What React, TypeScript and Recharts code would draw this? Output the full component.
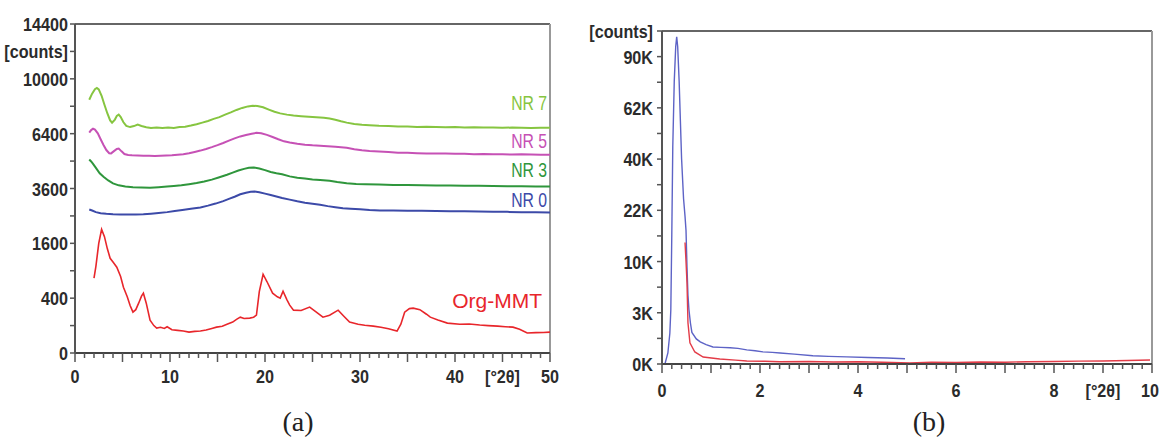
import { LineChart, Line, XAxis, YAxis, ReferenceLine } from 'recharts'

// panel (a): 2theta, counts
const nr7: [number, number][] = [
  [1.5, 8530], [1.8, 8950], [2.1, 9260], [2.3, 9350], [2.5, 9240], [2.8, 8800], [3.1, 8200], [3.4, 7650],
  [3.7, 7200], [3.9, 7060], [4.2, 7250], [4.4, 7480], [4.6, 7560], [4.8, 7420], [5.1, 7080], [5.4, 6860],
  [5.8, 6790], [6.2, 6850], [6.6, 6940], [7.0, 6860], [7.5, 6780], [8.0, 6730], [8.6, 6770], [9.2, 6740],
  [9.8, 6760], [10.4, 6730], [11.0, 6790], [11.6, 6810], [12.2, 6880], [12.8, 6960], [13.4, 7060], [14.0, 7160],
  [14.6, 7290], [15.2, 7400], [15.8, 7560], [16.4, 7700], [17.0, 7860], [17.6, 7990], [18.2, 8090], [18.7, 8140],
  [19.2, 8110], [19.8, 8030], [20.4, 7880], [21.0, 7740], [21.6, 7640], [22.3, 7560], [23.0, 7500], [23.8, 7460],
  [24.6, 7420], [25.4, 7390], [26.2, 7360], [26.8, 7320], [27.4, 7240], [28.0, 7140], [28.6, 7060], [29.4, 6980],
  [30.2, 6930], [31.0, 6900], [32.0, 6870], [33.0, 6860], [34.0, 6830], [35.0, 6820], [36.0, 6800], [37.0, 6810],
  [38.0, 6790], [39.0, 6780], [40.0, 6790], [41.0, 6770], [42.0, 6780], [43.0, 6760], [44.0, 6770], [45.0, 6750],
  [46.0, 6760], [47.0, 6750], [48.0, 6740], [49.0, 6750], [50.0, 6750],
]

const nr5: [number, number][] = [
  [1.5, 6460], [1.7, 6610], [1.9, 6690], [2.1, 6640], [2.4, 6420], [2.7, 6080], [3.0, 5760], [3.3, 5480],
  [3.6, 5310], [3.8, 5300], [4.1, 5420], [4.4, 5540], [4.6, 5560], [4.9, 5410], [5.2, 5270], [5.6, 5220],
  [6.0, 5200], [6.6, 5190], [7.2, 5170], [7.8, 5180], [8.4, 5160], [9.0, 5180], [9.6, 5190], [10.2, 5200],
  [10.8, 5230], [11.4, 5260], [12.0, 5310], [12.6, 5380], [13.2, 5450], [13.8, 5540], [14.4, 5640], [15.0, 5750],
  [15.6, 5870], [16.2, 6000], [16.8, 6130], [17.4, 6240], [18.0, 6320], [18.6, 6400], [19.1, 6450], [19.6, 6420],
  [20.2, 6330], [20.8, 6210], [21.4, 6080], [22.0, 5960], [22.6, 5890], [23.4, 5820], [24.2, 5770], [25.0, 5740],
  [25.8, 5720], [26.6, 5690], [27.4, 5660], [28.0, 5630], [28.6, 5600], [29.4, 5520], [30.2, 5470], [31.0, 5430],
  [32.0, 5400], [33.0, 5370], [34.0, 5340], [35.0, 5330], [36.0, 5310], [37.0, 5300], [38.0, 5300], [39.0, 5290],
  [40.0, 5280], [41.0, 5280], [42.0, 5260], [43.0, 5270], [44.0, 5250], [45.0, 5250], [46.0, 5240], [47.0, 5250],
  [48.0, 5240], [49.0, 5230], [50.0, 5235],
]

const nr3: [number, number][] = [
  [1.5, 4980], [1.7, 4880], [1.9, 4760], [2.2, 4560], [2.6, 4300], [3.0, 4130], [3.5, 3960], [4.0, 3830],
  [4.6, 3740], [5.3, 3690], [6.1, 3650], [7.0, 3640], [7.9, 3630], [8.8, 3660], [9.7, 3690], [10.4, 3710],
  [11.2, 3740], [12.0, 3790], [12.8, 3840], [13.6, 3910], [14.4, 4000], [15.2, 4110], [16.0, 4230], [16.6, 4330],
  [17.2, 4430], [17.8, 4510], [18.3, 4560], [18.8, 4580], [19.4, 4530], [20.0, 4450], [20.6, 4360], [21.2, 4300],
  [21.8, 4250], [22.6, 4150], [23.4, 4090], [24.2, 4050], [25.0, 4010], [25.8, 3980], [26.8, 3950], [27.6, 3890],
  [28.6, 3830], [29.6, 3800], [30.6, 3790], [32.0, 3780], [33.5, 3760], [35.0, 3750], [36.5, 3740], [38.0, 3730],
  [39.5, 3730], [41.0, 3720], [42.5, 3720], [44.0, 3710], [45.5, 3700], [47.0, 3700], [48.5, 3690], [50.0, 3690],
]

const nr0: [number, number][] = [
  [1.5, 2740], [1.8, 2700], [2.2, 2640], [2.7, 2600], [3.3, 2580], [4.0, 2565], [4.8, 2555], [5.6, 2550],
  [6.4, 2552], [7.2, 2560], [8.0, 2580], [8.8, 2605], [9.7, 2640], [10.5, 2680], [11.3, 2720], [12.2, 2765],
  [13.2, 2820], [14.0, 2890], [14.8, 2970], [15.6, 3070], [16.2, 3160], [16.8, 3250], [17.4, 3350], [18.0, 3420],
  [18.5, 3460], [18.9, 3470], [19.4, 3440], [20.0, 3380], [20.6, 3320], [21.2, 3260], [21.8, 3200], [22.6, 3130],
  [23.4, 3060], [24.2, 3000], [25.0, 2960], [25.8, 2920], [26.6, 2870], [27.4, 2830], [28.2, 2790], [29.0, 2770],
  [30.0, 2750], [31.0, 2720], [32.1, 2705], [33.5, 2700], [35.0, 2690], [36.5, 2690], [38.0, 2680], [39.5, 2670],
  [41.0, 2670], [42.5, 2660], [44.0, 2650], [45.5, 2650], [47.0, 2640], [48.5, 2635], [50.0, 2628],
]

const orgMmt: [number, number][] = [
  [2.0, 744], [2.2, 1000], [2.5, 1600], [2.8, 2033], [3.1, 1800], [3.4, 1450], [3.7, 1193], [4.0, 1100],
  [4.4, 978], [4.8, 780], [5.1, 576], [5.5, 420], [5.8, 300], [6.1, 222], [6.4, 250], [6.7, 330],
  [7.0, 430], [7.2, 476], [7.5, 330], [7.9, 144], [8.3, 100], [8.6, 83], [9.0, 88], [9.4, 80],
  [9.7, 92], [10.2, 72], [10.8, 68], [11.4, 64], [12.0, 58], [12.6, 62], [13.2, 64], [13.8, 70],
  [14.4, 80], [14.9, 89], [15.5, 95], [16.0, 110], [16.6, 127], [17.0, 150], [17.4, 171], [17.8, 158],
  [18.4, 162], [18.8, 170], [19.1, 191], [19.4, 500], [19.8, 825], [20.2, 680], [20.8, 476], [21.3, 420],
  [21.6, 400], [21.9, 508], [22.3, 380], [22.6, 305], [23.0, 244], [23.8, 240], [24.7, 280], [25.3, 230],
  [26.1, 171], [26.8, 190], [27.7, 244], [28.3, 180], [28.9, 127], [29.8, 110], [30.5, 102], [31.4, 96],
  [32.2, 88], [33.0, 78], [33.9, 64], [34.3, 110], [34.7, 222], [35.2, 262], [35.6, 268], [36.3, 250],
  [37.0, 200], [37.4, 171], [38.2, 145], [39.2, 119], [40.5, 110], [41.5, 112], [42.6, 104], [43.5, 100],
  [44.5, 96], [45.3, 92], [46.1, 89], [46.8, 75], [47.6, 53], [48.5, 55], [49.3, 56], [50.0, 58],
]

// panel (b)
const smallBlue: [number, number][] = [
  [0.06, 0], [0.12, 116], [0.16, 900], [0.18, 2800], [0.2, 16000], [0.22, 45000], [0.25, 76000], [0.28, 96000],
  [0.3, 102000], [0.32, 96000], [0.35, 76000], [0.4, 40000], [0.44, 26000], [0.47, 20750], [0.49, 17000], [0.51, 9000],
  [0.53, 4500], [0.55, 2800], [0.58, 1600], [0.61, 950], [0.7, 600], [0.78, 465], [0.9, 360], [1.04, 277],
  [1.2, 262], [1.39, 250], [1.55, 232], [1.73, 190], [1.9, 168], [2.06, 140], [2.25, 128], [2.41, 116],
  [2.7, 92], [3.08, 64], [3.4, 56], [3.77, 48], [4.2, 40], [4.6, 34], [4.96, 26],
]

const smallRed: [number, number][] = [
  [0.47, 14065], [0.49, 10000], [0.51, 6301], [0.53, 1614], [0.57, 424], [0.67, 138], [0.84, 47], [1.18, 24],
  [1.5, 14], [1.73, 9], [2.1, 7], [2.4, 5], [3.0, 6], [3.5, 4], [4.0, 5], [4.5, 3], [5.06, 1], [5.5, 3],
  [6.0, 2], [6.5, 4], [7.0, 3], [7.45, 5], [8.0, 6], [8.5, 8], [9.0, 9], [9.5, 12], [9.96, 15],
]

const aYTicks = [0, 100, 400, 900, 1600, 2500, 3600, 4900, 6400, 8100, 10000, 12100, 14400]
const aYLabels: Record<number, string> = { 0: '0', 400: '400', 1600: '1600', 3600: '3600', 6400: '6400', 10000: '10000', 12100: '[counts]', 14400: '14400' }
const aXLabels: Record<number, string> = { 0: '0', 10: '10', 20: '20', 30: '30', 40: '40', 45: '[°2θ]', 50: '50' }

const bYTicks = [0, 625, 2500, 5625, 10000, 15625, 22500, 30625, 40000, 50625, 62500, 75625, 90000, 105625]
const bYLabels: Record<number, string> = { 0: '0K', 2500: '3K', 10000: '10K', 22500: '22K', 40000: '40K', 62500: '62K', 90000: '90K', 105625: '[counts]' }
const bXLabels: Record<number, string> = { 0: '0', 2: '2', 4: '4', 6: '6', 8: '8', 9: '[°2θ]', 10: '10' }

const aXTicks = Array.from({ length: 51 }, (_, i) => i)
const bXTicks = Array.from({ length: 51 }, (_, i) => i / 5)

const toRows = (pts: [number, number][]) => pts.map(([x, y]) => ({ x, y }))

const FONT = 'Liberation Sans Narrow, Arial Narrow, sans-serif'
const INK = '#2b2b2b'

const NarrowText = ({ x, y, anchor, size, sx, fill, weight, children }: any) => (
  <text transform={`translate(${x},${y}) scale(${sx},1)`} textAnchor={anchor} fontFamily={FONT} fontSize={size}
    fontWeight={weight ?? 'normal'} fill={fill}>
    {children}
  </text>
)

const makeYTick = (labels: Record<number, string>, gap: number) => (props: any) => {
  const { x, y, payload } = props
  const label = labels[payload.value]
  return (
    <g>
      <line x1={x - 5} x2={x} y1={y} y2={y} stroke="#555" strokeWidth={1.5} />
      {label && <NarrowText x={x - gap} y={y + 7} anchor="end" size={19} sx={0.85} weight="bold" fill={INK}>{label}</NarrowText>}
    </g>
  )
}

const makeXTick = (labels: Record<number, string>, isMajor: (v: number) => boolean, dy: number, edge: number) => (props: any) => {
  const { x, y, payload } = props
  const v = payload.value
  const label = labels[v]
  // keep the last label inside the page
  const lx = v === edge ? x - 2 : x
  return (
    <g>
      <line x1={x} x2={x} y1={y} y2={y + (isMajor(v) ? 9 : 5)} stroke="#555" strokeWidth={1.5} />
      {label && <NarrowText x={lx} y={y + dy} anchor="middle" size={19} sx={0.85} weight="bold" fill={INK}>{label}</NarrowText>}
    </g>
  )
}

export default function App() {
  return (
    <div style={{ position: 'absolute', left: 0, top: 0, width: 1159, height: 439, background: '#fff' }}>
      <div style={{ position: 'absolute', left: 0, top: 0 }}>
        <LineChart width={570} height={400} margin={{ top: 24, right: 20, bottom: 17, left: 15 }}>
          <XAxis type="number" dataKey="x" domain={[0, 50]} ticks={aXTicks} interval={0} height={30}
            axisLine={{ stroke: '#444', strokeWidth: 2 }} tickLine={false} tickSize={0} tickMargin={0}
            tick={makeXTick(aXLabels, (v) => v % 5 === 0, 30, -1)} />
          <YAxis type="number" scale="sqrt" domain={[0, 14400]} ticks={aYTicks} interval={0} width={60}
            axisLine={{ stroke: '#555', strokeWidth: 2 }} tickLine={false} tickSize={0} tickMargin={0}
            tick={makeYTick(aYLabels, 7)} />
          <ReferenceLine y={14400} stroke="#666" strokeWidth={2} />
          <ReferenceLine x={50} stroke="#999" strokeWidth={2} />
          <Line data={toRows(nr7)} dataKey="y" stroke="#86c540" strokeWidth={2} dot={false} isAnimationActive={false} />
          <Line data={toRows(nr5)} dataKey="y" stroke="#c651b5" strokeWidth={2} dot={false} isAnimationActive={false} />
          <Line data={toRows(nr3)} dataKey="y" stroke="#2f963c" strokeWidth={2} dot={false} isAnimationActive={false} />
          <Line data={toRows(nr0)} dataKey="y" stroke="#3c4aa8" strokeWidth={2} dot={false} isAnimationActive={false} />
          <Line data={toRows(orgMmt)} dataKey="y" stroke="#e8262b" strokeWidth={1.6} dot={false} isAnimationActive={false} />
        </LineChart>
      </div>
      <div style={{ position: 'absolute', left: 580, top: 0 }}>
        <LineChart width={579} height={400} margin={{ top: 31, right: 7, bottom: 6, left: 22 }}>
          <XAxis type="number" dataKey="x" domain={[0, 10]} ticks={bXTicks} interval={0} height={30}
            axisLine={{ stroke: '#444', strokeWidth: 2 }} tickLine={false} tickSize={0} tickMargin={0}
            tick={makeXTick(bXLabels, (v) => Number.isInteger(v), 33, 10)} />
          <YAxis type="number" scale="sqrt" domain={[0, 105625]} ticks={bYTicks} interval={0} width={60}
            axisLine={{ stroke: '#555', strokeWidth: 2 }} tickLine={false} tickSize={0} tickMargin={0}
            tick={makeYTick(bYLabels, 9)} />
          <ReferenceLine y={105625} stroke="#666" strokeWidth={2} />
          <ReferenceLine x={10} stroke="#999" strokeWidth={2} />
          <Line data={toRows(smallBlue)} dataKey="y" stroke="#5d63c6" strokeWidth={1.4} dot={false} isAnimationActive={false} />
          <Line data={toRows(smallRed)} dataKey="y" stroke="#e33c48" strokeWidth={1.4} dot={false} isAnimationActive={false} />
        </LineChart>
      </div>
      <svg width={1159} height={439} style={{ position: 'absolute', left: 0, top: 0, pointerEvents: 'none' }}>
        <NarrowText x={547} y={110} anchor="end" size={21} sx={0.75} fill="#86c540">NR 7</NarrowText>
        <NarrowText x={547} y={148} anchor="end" size={21} sx={0.75} fill="#c651b5">NR 5</NarrowText>
        <NarrowText x={547} y={177} anchor="end" size={21} sx={0.75} fill="#2f963c">NR 3</NarrowText>
        <NarrowText x={547} y={207} anchor="end" size={21} sx={0.75} fill="#3c4aa8">NR 0</NarrowText>
        <text x={542} y={308} textAnchor="end" fontFamily="Liberation Sans, Arial, sans-serif" fontSize={21} fill="#e8262b">Org-MMT</text>
        <text x={298} y={431} textAnchor="middle" fontFamily="Liberation Serif, Times New Roman, serif" fontSize={28} fill="#222">(a)</text>
        <text x={929} y={431} textAnchor="middle" fontFamily="Liberation Serif, Times New Roman, serif" fontSize={28} fill="#222">(b)</text>
      </svg>
    </div>
  )
}
